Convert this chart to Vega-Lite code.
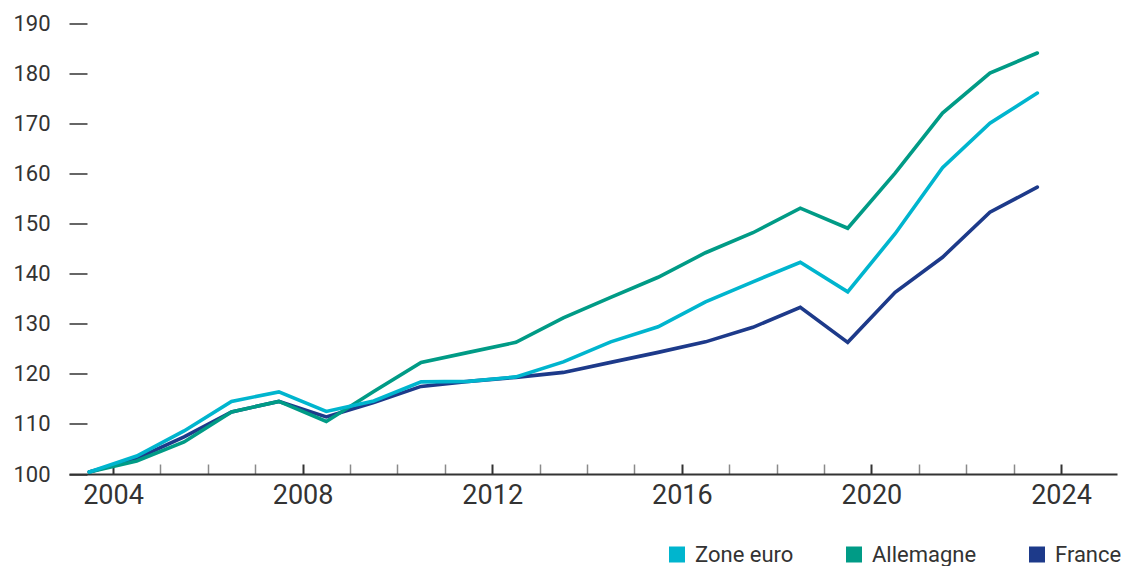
{
  "$schema": "https://vega.github.io/schema/vega-lite/v6.json",
  "width": 1048,
  "height": 450.5,
  "autosize": {"type": "none"},
  "padding": {"left": 69, "top": 23.5, "right": 6, "bottom": 92},
  "background": "white",
  "config": {"view": {"stroke": null}, "font": "Roboto"},
  "datasets": {
    "series": [
      {"series": "France", "year": 2003.5, "value": 100.4},
      {"series": "France", "year": 2004.5, "value": 103.1},
      {"series": "France", "year": 2005.5, "value": 107.4},
      {"series": "France", "year": 2006.5, "value": 112.4},
      {"series": "France", "year": 2007.5, "value": 114.5},
      {"series": "France", "year": 2008.5, "value": 111.4},
      {"series": "France", "year": 2009.5, "value": 114.3},
      {"series": "France", "year": 2010.5, "value": 117.5},
      {"series": "France", "year": 2011.5, "value": 118.5},
      {"series": "France", "year": 2012.5, "value": 119.3},
      {"series": "France", "year": 2013.5, "value": 120.3},
      {"series": "France", "year": 2014.5, "value": 122.3},
      {"series": "France", "year": 2015.5, "value": 124.3},
      {"series": "France", "year": 2016.5, "value": 126.4},
      {"series": "France", "year": 2017.5, "value": 129.3},
      {"series": "France", "year": 2018.5, "value": 133.3},
      {"series": "France", "year": 2019.5, "value": 126.3},
      {"series": "France", "year": 2020.5, "value": 136.3},
      {"series": "France", "year": 2021.5, "value": 143.3},
      {"series": "France", "year": 2022.5, "value": 152.3},
      {"series": "France", "year": 2023.5, "value": 157.3},
      {"series": "Allemagne", "year": 2003.5, "value": 100.4},
      {"series": "Allemagne", "year": 2004.5, "value": 102.6},
      {"series": "Allemagne", "year": 2005.5, "value": 106.4},
      {"series": "Allemagne", "year": 2006.5, "value": 112.4},
      {"series": "Allemagne", "year": 2007.5, "value": 114.5},
      {"series": "Allemagne", "year": 2008.5, "value": 110.5},
      {"series": "Allemagne", "year": 2009.5, "value": 116.5},
      {"series": "Allemagne", "year": 2010.5, "value": 122.3},
      {"series": "Allemagne", "year": 2011.5, "value": 124.3},
      {"series": "Allemagne", "year": 2012.5, "value": 126.3},
      {"series": "Allemagne", "year": 2013.5, "value": 131.2},
      {"series": "Allemagne", "year": 2014.5, "value": 135.3},
      {"series": "Allemagne", "year": 2015.5, "value": 139.3},
      {"series": "Allemagne", "year": 2016.5, "value": 144.2},
      {"series": "Allemagne", "year": 2017.5, "value": 148.2},
      {"series": "Allemagne", "year": 2018.5, "value": 153.1},
      {"series": "Allemagne", "year": 2019.5, "value": 149.1},
      {"series": "Allemagne", "year": 2020.5, "value": 160.1},
      {"series": "Allemagne", "year": 2021.5, "value": 172.1},
      {"series": "Allemagne", "year": 2022.5, "value": 180.1},
      {"series": "Allemagne", "year": 2023.5, "value": 184.1},
      {"series": "Zone euro", "year": 2003.5, "value": 100.4},
      {"series": "Zone euro", "year": 2004.5, "value": 103.6},
      {"series": "Zone euro", "year": 2005.5, "value": 108.6},
      {"series": "Zone euro", "year": 2006.5, "value": 114.5},
      {"series": "Zone euro", "year": 2007.5, "value": 116.4},
      {"series": "Zone euro", "year": 2008.5, "value": 112.5},
      {"series": "Zone euro", "year": 2009.5, "value": 114.6},
      {"series": "Zone euro", "year": 2010.5, "value": 118.4},
      {"series": "Zone euro", "year": 2011.5, "value": 118.5},
      {"series": "Zone euro", "year": 2012.5, "value": 119.4},
      {"series": "Zone euro", "year": 2013.5, "value": 122.4},
      {"series": "Zone euro", "year": 2014.5, "value": 126.4},
      {"series": "Zone euro", "year": 2015.5, "value": 129.4},
      {"series": "Zone euro", "year": 2016.5, "value": 134.4},
      {"series": "Zone euro", "year": 2017.5, "value": 138.4},
      {"series": "Zone euro", "year": 2018.5, "value": 142.3},
      {"series": "Zone euro", "year": 2019.5, "value": 136.4},
      {"series": "Zone euro", "year": 2020.5, "value": 148.0},
      {"series": "Zone euro", "year": 2021.5, "value": 161.2},
      {"series": "Zone euro", "year": 2022.5, "value": 170.1},
      {"series": "Zone euro", "year": 2023.5, "value": 176.1}
    ]
  },
  "data": {"name": "series"},
  "mark": {"type": "line", "strokeWidth": 3.6, "strokeCap": "round", "strokeJoin": "miter"},
  "encoding": {
    "x": {
      "field": "year",
      "type": "quantitative",
      "scale": {"domain": [2003.072, 2025.181], "nice": false, "zero": false},
      "axis": {
        "title": null,
        "grid": false,
        "values": [2004, 2005, 2006, 2007, 2008, 2009, 2010, 2011, 2012, 2013, 2014, 2015, 2016, 2017, 2018, 2019, 2020, 2021, 2022, 2023, 2024],
        "format": "d",
        "labelExpr": "datum.value % 4 === 0 ? datum.label : ''",
        "domainColor": "#333333",
        "domainWidth": 2,
        "tickSize": -10,
        "tickColor": {"condition": {"test": "datum.value % 4 === 0", "value": "#333333"}, "value": "#8a8a8a"},
        "tickWidth": {"condition": {"test": "datum.value % 4 === 0", "value": 2}, "value": 1.5},
        "labelFontSize": 27,
        "labelColor": "#333333",
        "labelPadding": 18,
        "labelFlush": false,
        "labelOverlap": false
      }
    },
    "y": {
      "field": "value",
      "type": "quantitative",
      "scale": {"domain": [100, 190], "nice": false, "zero": false},
      "axis": {
        "title": null,
        "grid": false,
        "domain": false,
        "values": [100, 110, 120, 130, 140, 150, 160, 170, 180, 190],
        "offset": -18,
        "tickSize": 18,
        "tickColor": "#333333",
        "tickWidth": 1.5,
        "labelFontSize": 22,
        "labelColor": "#333333",
        "labelPadding": 19
      }
    },
    "color": {
      "field": "series",
      "type": "nominal",
      "scale": {"domain": ["Zone euro", "Allemagne", "France"], "range": ["#00B5CE", "#009B86", "#1D3A8A"]},
      "legend": {
        "orient": "none",
        "legendX": 597,
        "legendY": 520,
        "direction": "horizontal",
        "title": null,
        "padding": 0,
        "symbolType": "square",
        "symbolSize": 256,
        "labelFontSize": 22,
        "labelColor": "#333333",
        "labelOffset": 7,
        "columnPadding": 49,
        "encode": {
          "symbols": {"update": {"fill": {"scale": "color", "field": "value"}, "strokeWidth": {"value": 0}, "opacity": {"value": 1}}}
        }
      }
    }
  }
}
